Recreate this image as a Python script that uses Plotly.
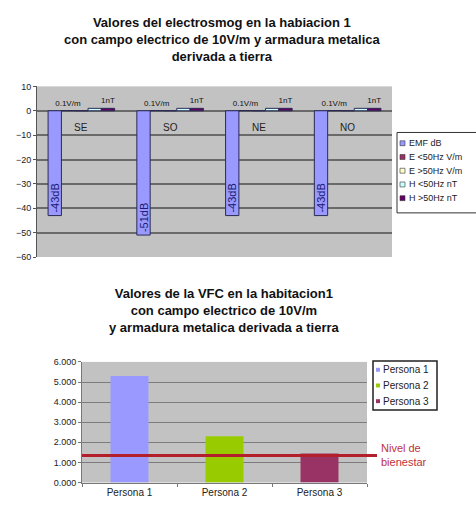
import plotly.graph_objects as go

W, H = 476, 515

# ---- Chart 1: electrosmog values per orientation ----
orientaciones = ["SE", "SO", "NE", "NO"]
series_nombres = ["EMF dB", "E <50Hz V/m", "E >50Hz V/m", "H <50Hz nT", "H >50Hz nT"]
series_colores = ["#9999FF", "#993366", "#FFFFCC", "#CCFFFF", "#660066"]
emf_db = [-43, -51, -43, -43]
e_bajo_vm = [0.1, 0.1, 0.1, 0.1]
e_alto_vm = [0.0, 0.0, 0.0, 0.0]
h_bajo_nt = [1, 1, 1, 1]
h_alto_nt = [1, 1, 1, 1]
series_valores = [emf_db, e_bajo_vm, e_alto_vm, h_bajo_nt, h_alto_nt]
series_etiquetas = [
    [f"{v}dB" for v in emf_db],
    [f"{v}V/m" for v in e_bajo_vm],
    None,
    None,
    [f"{v}nT" for v in h_alto_nt],
]

# ---- Chart 2: VFC per person ----
personas = ["Persona 1", "Persona 2", "Persona 3"]
vfc = [5.3, 2.3, 1.45]
persona_colores = ["#9999FF", "#99CC00", "#993366"]
nivel_bienestar = 1.35

FONT = "Arial, Liberation Sans, sans-serif"


def px_x(p):
    return p / W


def px_y(p):
    return 1 - p / H


fig = go.Figure()

for i, (nombre, vals, color, txt) in enumerate(
    zip(series_nombres, series_valores, series_colores, series_etiquetas)
):
    kw = {}
    if i == 0:
        kw = dict(
            text=txt,
            textposition="inside",
            insidetextanchor="end",
            textangle=-90,
            textfont=dict(size=11, color="#1a1a70", family=FONT),
        )
    elif txt is not None:
        kw = dict(
            text=txt,
            textposition="outside",
            textangle=0,
            textfont=dict(size=8, color="#111111", family=FONT),
        )
    fig.add_trace(
        go.Bar(
            x=orientaciones,
            y=vals,
            name=nombre,
            marker=dict(color=color, line=dict(color="#2a2a55", width=1)),
            constraintext="none",
            cliponaxis=False,
            showlegend=False,
            xaxis="x",
            yaxis="y",
            **kw,
        )
    )

for p, v, c in zip(personas, vfc, persona_colores):
    fig.add_trace(
        go.Bar(
            x=[p],
            y=[v],
            name=p,
            width=0.4,
            offsetgroup="vfc",
            marker=dict(color=c, line=dict(width=0)),
            showlegend=False,
            xaxis="x2",
            yaxis="y2",
        )
    )

annotations = []
shapes = []


def bold_lines(lines):
    return "<br>".join(f"<b>{s}</b>" for s in lines)


# titles
annotations.append(dict(
    text=bold_lines(["Valores del electrosmog en la habiacion 1",
                     "con campo electrico de 10V/m y armadura metalica",
                     "derivada a tierra"]),
    x=px_x(222), y=px_y(8), xref="paper", yref="paper", xanchor="center", yanchor="top",
    showarrow=False, font=dict(family=FONT, size=13, color="#111111"), align="center",
))
annotations.append(dict(
    text=bold_lines(["Valores de la VFC en la habitacion1",
                     "con campo electrico de 10V/m",
                     "y armadura metalica derivada a tierra"]),
    x=px_x(224), y=px_y(285), xref="paper", yref="paper", xanchor="center", yanchor="top",
    showarrow=False, font=dict(family=FONT, size=13, color="#111111"), align="center",
))

# orientation labels below the zero line
for o in orientaciones:
    annotations.append(dict(
        text=o, x=o, y=0, xref="x", yref="y", yanchor="top", yshift=-9,
        showarrow=False, font=dict(family=FONT, size=10, color="#222222"),
    ))

# legend of chart 1
leg1_top, leg1_step = 141, 14
shapes.append(dict(type="rect", xref="paper", yref="paper",
                   x0=px_x(397), x1=px_x(490), y0=px_y(130), y1=px_y(212),
                   line=dict(color="#333333", width=1), fillcolor="white", layer="below"))
for k, (nombre, color) in enumerate(zip(series_nombres, series_colores)):
    yc = leg1_top + k * leg1_step
    shapes.append(dict(type="rect", xref="paper", yref="paper",
                       x0=px_x(400), x1=px_x(405), y0=px_y(yc + 2.5), y1=px_y(yc - 2.5),
                       line=dict(color="#333333", width=0.6), fillcolor=color))
    annotations.append(dict(
        text=nombre, x=px_x(407), y=px_y(yc), xref="paper", yref="paper",
        xanchor="left", yanchor="middle", showarrow=False,
        font=dict(family=FONT, size=9, color="#222222"),
    ))

# legend of chart 2
leg2_top, leg2_step = 372, 16
shapes.append(dict(type="rect", xref="paper", yref="paper",
                   x0=px_x(373), x1=px_x(437), y0=px_y(363), y1=px_y(413),
                   line=dict(color="#222222", width=1.5), fillcolor="white", layer="below"))
for k, (p, c) in enumerate(zip(personas, persona_colores)):
    yc = leg2_top + k * leg2_step
    shapes.append(dict(type="rect", xref="paper", yref="paper",
                       x0=px_x(376), x1=px_x(380), y0=px_y(yc + 2), y1=px_y(yc - 2),
                       line=dict(width=0), fillcolor=c))
    annotations.append(dict(
        text=p, x=px_x(381), y=px_y(yc), xref="paper", yref="paper",
        xanchor="left", yanchor="middle", showarrow=False,
        font=dict(family=FONT, size=10, color="#222222"),
    ))

# wellbeing threshold line
shapes.append(dict(type="line", xref="paper", yref="y2",
                   x0=px_x(82), x1=px_x(377), y0=nivel_bienestar, y1=nivel_bienestar,
                   line=dict(color="#b3202c", width=3)))
annotations.append(dict(
    text="Nivel de<br>bienestar", x=px_x(379), y=nivel_bienestar, xref="paper", yref="y2",
    xanchor="left", yanchor="middle", align="left", showarrow=False,
    font=dict(family=FONT, size=11, color="#c0303a"),
))

fig.update_layout(
    width=W, height=H,
    margin=dict(l=0, r=0, t=0, b=0),
    paper_bgcolor="white",
    plot_bgcolor="#c2c2c2",
    barmode="group",
    bargap=0.25,
    bargroupgap=0,
    showlegend=False,
    font=dict(family=FONT, color="#222222"),
    xaxis=dict(domain=[px_x(37), px_x(392)], anchor="y", showticklabels=False,
               showgrid=False, zeroline=False, showline=False),
    yaxis=dict(domain=[px_y(257), px_y(83)], anchor="x", range=[-60, 10], dtick=10,
               showgrid=True, gridcolor="#6a6a6a", gridwidth=2, zeroline=False,
               showline=True, linecolor="#555555", linewidth=1,
               ticks="outside", ticklen=3, tickcolor="#555555",
               tickfont=dict(size=9, color="#222222")),
    xaxis2=dict(domain=[px_x(82), px_x(367)], anchor="y2", showgrid=False,
                showline=True, linecolor="#777777", ticks="outside", tickson="boundaries",
                ticklen=3, tickcolor="#777777",
                tickfont=dict(size=10, color="#222222")),
    yaxis2=dict(domain=[px_y(487), px_y(364)], anchor="x2", range=[0, 6], dtick=1,
                tickformat=".3f", showgrid=True, gridcolor="#7c7c7c", gridwidth=1,
                zeroline=False, showline=True, linecolor="#777777",
                ticks="outside", ticklen=3, tickcolor="#777777",
                tickfont=dict(size=9, color="#222222")),
    annotations=annotations,
    shapes=shapes,
)

fig.write_html("out.html")
